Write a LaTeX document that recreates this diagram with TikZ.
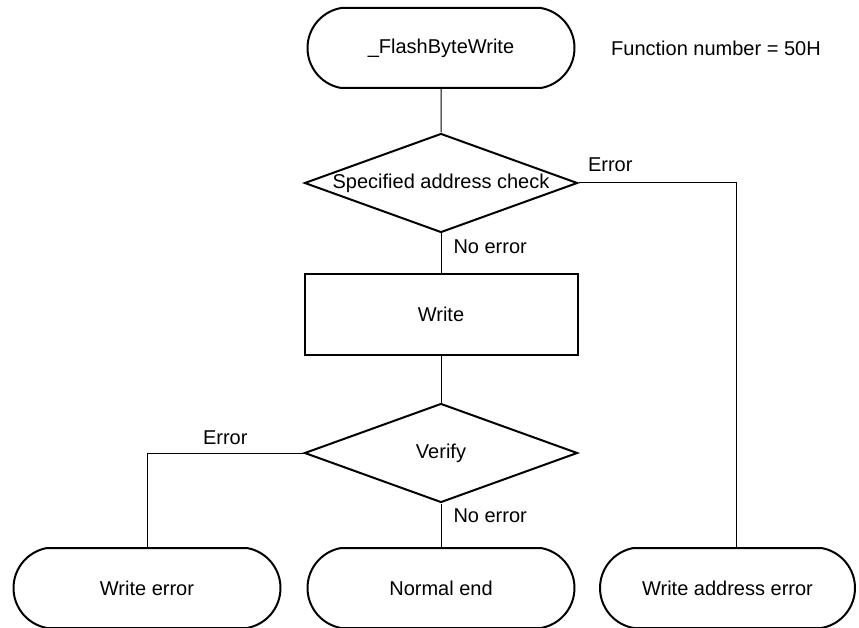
\documentclass[tikz,border=0pt]{standalone}
\usepackage{fontspec}
\setmainfont{Liberation Sans}
\usetikzlibrary{shapes.geometric,shapes.misc}

\begin{document}
\begin{tikzpicture}[x=1pt, y=-1pt,
    txt/.style={font=\fontsize{20}{24}\selectfont, inner sep=3pt},
    terminal/.style={txt, draw, line width=2pt, rounded rectangle, rounded rectangle arc length=160, minimum width=273pt, minimum height=80pt},
    decision/.style={txt, draw, line width=2pt, diamond, aspect=2.76, inner sep=0pt, minimum width=273pt, minimum height=99pt},
    process/.style={txt, draw, line width=2pt, rectangle, minimum width=273pt, minimum height=81pt},
    flow/.style={line width=1pt}]
    \useasboundingbox (0,0) rectangle (859,628);

    % Nodes (Boxes)
    \node[terminal] (start) at (441,48) {\_FlashByteWrite};
    \node[txt, anchor=west] (fnum) at (608,48) {Function number = 50H};
    \node[decision] (chk) at (441,183) {Specified address check};
    \node[process] (wr) at (441,314.5) {Write};
    \node[decision] (vfy) at (441,453) {Verify};

    \node[terminal] (wrerr) at (147,588) {Write error};
    \node[terminal] (normend) at (441,588) {Normal end};
    \node[terminal, minimum width=261pt] (adrerr) at (727.5,588) {Write address error};

    % Edges
    \draw[flow] (start) -- (chk);

    % chk: no error -> write, error -> address error
    \draw[flow] (chk.south) node[txt, below right, xshift=9pt, yshift=-3pt] {No error} -- (wr.north);
    \draw[flow] (chk.east) node[txt, above right, xshift=6pt, yshift=8pt] {Error} -| ([xshift=8.5pt]adrerr.north);

    \draw[flow] (wr) -- (vfy);

    % vfy: no error -> normal end, error -> write error
    \draw[flow] (vfy.south) node[txt, below right, xshift=9pt, yshift=-2pt] {No error} -- (normend.north);
    \draw[flow] (vfy.west) -| node[txt, pos=0.25, above, yshift=5pt] {Error} (wrerr.north);
\end{tikzpicture}
\end{document}
